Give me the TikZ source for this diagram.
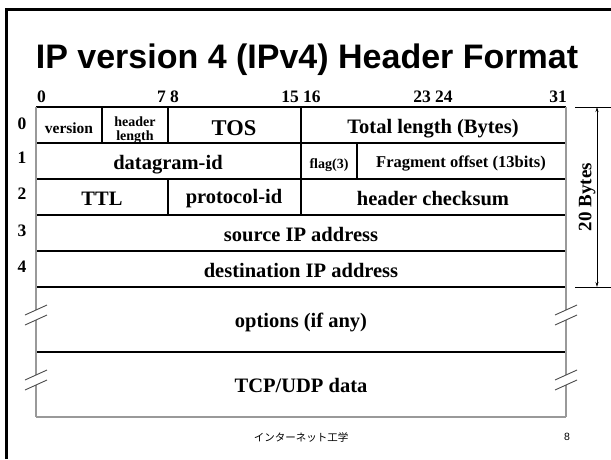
\documentclass[tikz,border=0pt]{standalone}
\usepackage{fontspec}
\setmainfont{Liberation Serif}
\newfontfamily\arialf{Liberation Sans}
\newfontfamily\cjkf{Noto Sans CJK JP}
\usetikzlibrary{arrows.meta}
\begin{document}
\begin{tikzpicture}[x=1pt,y=-1pt,
  fld/.style={font=\bfseries\fontsize{20.5}{20.5}\selectfont, inner sep=0pt, anchor=base},
  sfld/.style={font=\bfseries\fontsize{16.5}{16.5}\selectfont, inner sep=0pt, anchor=base},
  bitlbl/.style={font=\bfseries\fontsize{17.5}{17.5}\selectfont, inner sep=0pt, anchor=base},
  rowlbl/.style={font=\bfseries\fontsize{17.5}{17.5}\selectfont, inner sep=0pt},
  inner/.style={black, line width=1.3pt},
  outer/.style={gray!80, line width=1.5pt},
  brk/.style={black!70, line width=0.9pt},
  dim/.style={black, line width=0.8pt}]
\useasboundingbox (0,0) rectangle (611,459);
% slide frame
\draw[line width=3pt] (6,459) -- (6,9) -- (611,9);
% title
\node[font=\arialf\bfseries\fontsize{34}{34}\selectfont, inner sep=0pt, anchor=base] (title) at (307,68) {IP version 4 (IPv4) Header Format};
% bit labels
\node[bitlbl, anchor=base west] (b0) at (37,102) {0};
\node[bitlbl] (b78) at (168,102) {7 8};
\node[bitlbl] (b1516) at (301,102) {15 16};
\node[bitlbl] (b2324) at (433,102) {23 24};
\node[bitlbl, anchor=base east] (b31) at (567,102) {31};
% row labels
\node[rowlbl] (r0) at (22,124) {0};
\node[rowlbl] (r1) at (22,158) {1};
\node[rowlbl] (r2) at (22,194) {2};
\node[rowlbl] (r3) at (22,231) {3};
\node[rowlbl] (r4) at (22,267) {4};
% horizontal lines
\draw[inner] (36,107) -- (566,107);
\foreach \yy in {143,179,215,251,287,352} \draw[inner] (36,\yy) -- (566,\yy);
\draw[outer] (36,417) -- (566,417);
% vertical dividers
\draw[inner] (102,107) -- (102,143);
\draw[inner] (168,107) -- (168,143);
\draw[inner] (301,107) -- (301,143);
\draw[inner] (301,143) -- (301,179);
\draw[inner] (357,143) -- (357,179);
\draw[inner] (168,179) -- (168,215);
\draw[inner] (301,179) -- (301,215);
% outer sides with breaks
\foreach \xx in {36,566} {
  \draw[outer] (\xx,107) -- (\xx,310);
  \draw[outer] (\xx,320) -- (\xx,375);
  \draw[outer] (\xx,385) -- (\xx,417);
  \foreach \yy in {310,320,375,385}
    \draw[brk] (\xx-11,\yy+5) -- (\xx+11,\yy-5);
}
% fields
\node[font=\bfseries\fontsize{15.5}{15.5}\selectfont, inner sep=0pt, anchor=base] (ver) at (69,133) {version};
\node[font=\bfseries\fontsize{14}{14}\selectfont, inner sep=0pt, anchor=base] (hl1) at (135,126) {header};
\node[font=\bfseries\fontsize{14}{14}\selectfont, inner sep=0pt, anchor=base] (hl2) at (135,140) {length};
\node[font=\bfseries\fontsize{22.5}{22.5}\selectfont, inner sep=0pt, anchor=base] (tos) at (234,135) {TOS};
\node[fld] (tl) at (433,133) {Total length (Bytes)};
\node[fld] (dg) at (168,169) {datagram-id};
\node[font=\bfseries\fontsize{14}{14}\selectfont, inner sep=0pt, anchor=base] (flag) at (329,168) {flag(3)};
\node[sfld] (frag) at (461,167) {Fragment offset (13bits)};
\node[fld] (ttl) at (102,205) {TTL};
\node[fld] (proto) at (234,203) {protocol-id};
\node[fld] (hc) at (433,205) {header checksum};
\node[fld] (src) at (301,241) {source IP address};
\node[fld] (dst) at (301,277) {destination IP address};
\node[fld] (opt) at (301,327) {options (if any)};
\node[fld] (data) at (301,392) {TCP/UDP data};
% 20 Bytes dimension
\coordinate (dt1) at (575,107);
\coordinate (dt2) at (611,107);
\coordinate (db1) at (575,287);
\coordinate (db2) at (611,287);
\coordinate (at) at (597,107);
\coordinate (ab) at (597,287);
\draw[dim] (dt1) -- (dt2);
\draw[dim] (db1) -- (db2);
\draw[dim, {Stealth[length=5pt,width=3pt]}-{Stealth[length=5pt,width=3pt]}] (at) -- (ab);
\node[font=\bfseries\fontsize{19}{19}\selectfont, inner sep=0pt, rotate=90] (twenty) at (587,197) {20 Bytes};
% footer
\node[font=\cjkf\fontsize{10.5}{10.5}\selectfont, inner sep=0pt] (foot) at (301,437) {インターネット工学};
\node[font=\arialf\fontsize{10.5}{10.5}\selectfont, inner sep=0pt] (pg) at (567,437) {8};
\end{tikzpicture}
\end{document}
